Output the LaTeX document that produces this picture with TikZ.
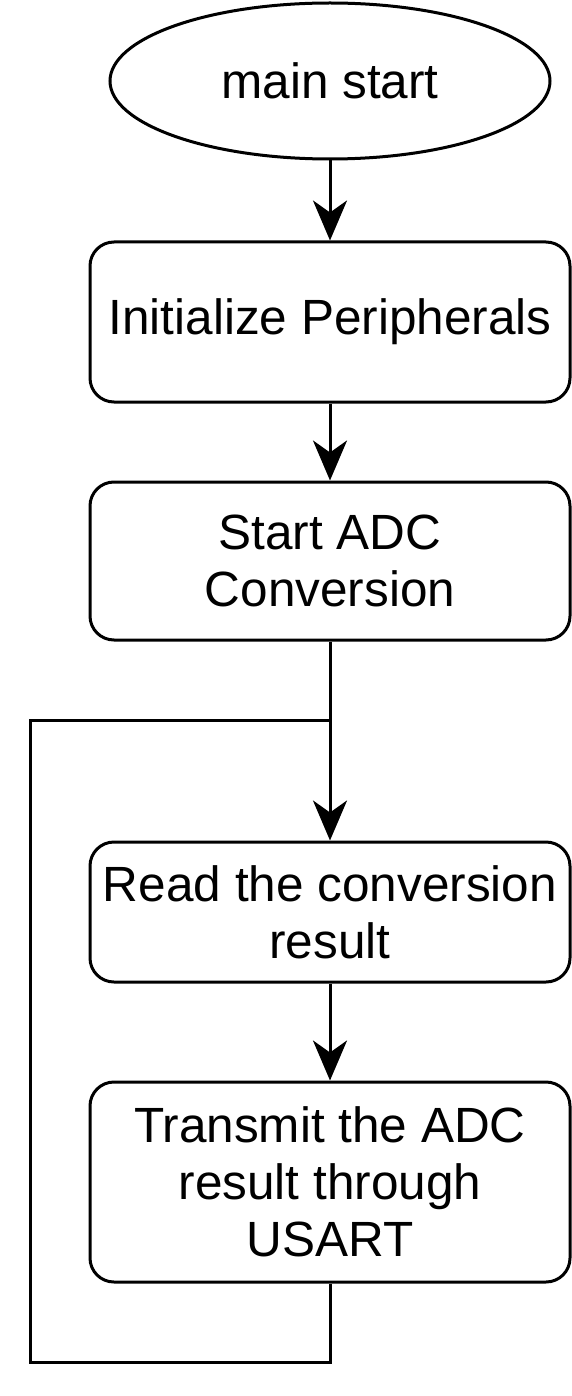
\documentclass[tikz,border=0pt]{standalone}
\usepackage{fontspec}
\setmainfont{Liberation Sans}
\usetikzlibrary{arrows.meta,shapes.geometric}
\begin{document}
\begin{tikzpicture}[x=1pt,y=-1pt,
  line width=3pt,
  flowbox/.style={draw, rounded corners=24pt, minimum width=480pt, align=center,
     font=\fontsize{49.5}{57}\selectfont, inner sep=0pt},
  conn/.style={-{Stealth[length=40pt,width=34pt,inset=12pt]}}]
\useasboundingbox (0,0) rectangle (572,1396);
\node[draw, ellipse, minimum width=440pt, minimum height=156pt, inner sep=0pt,
  font=\fontsize{49.5}{57}\selectfont] (st) at (330,81) {main start};
\node[flowbox, minimum height=160pt] (b1) at (330,322) {Initialize Peripherals};
\node[flowbox, minimum height=158pt] (b2) at (330,561) {Start ADC\\Conversion};
\node[flowbox, minimum height=140pt] (b3) at (330,912) {Read the conversion\\result};
\node[flowbox, minimum height=200pt] (b4) at (330,1182) {Transmit the ADC\\result through\\USART};
\coordinate (j) at (330,720);
\coordinate (c1) at (330,1362);
\coordinate (c2) at (30,1362);
\coordinate (c3) at (30,720);
\draw[conn] (st) -- (b1);
\draw[conn] (b1) -- (b2);
\draw (b2) -- (j);
\draw[conn] (j) -- (b3);
\draw[conn] (b3) -- (b4);
\draw (b4.south) -- (c1) -- (c2) -- (c3) -- (j);
\end{tikzpicture}
\end{document}
